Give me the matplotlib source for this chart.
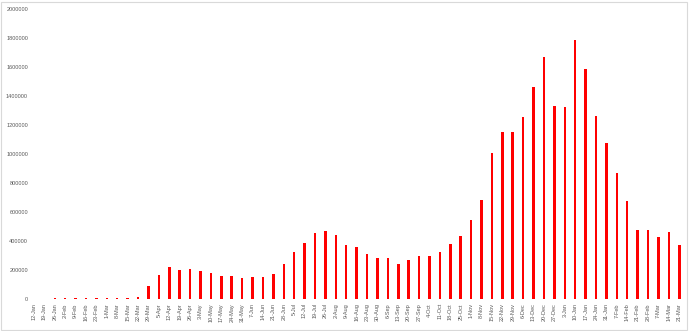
import matplotlib
matplotlib.use("Agg")
import matplotlib.pyplot as plt
from matplotlib.patches import Rectangle

weeks = ["12-Jan", "19-Jan", "26-Jan", "2-Feb", "9-Feb", "16-Feb", "23-Feb", "1-Mar", "8-Mar",
         "15-Mar", "22-Mar", "29-Mar", "5-Apr", "12-Apr", "19-Apr", "26-Apr", "3-May", "10-May",
         "17-May", "24-May", "31-May", "7-Jun", "14-Jun", "21-Jun", "28-Jun", "5-Jul", "12-Jul",
         "19-Jul", "26-Jul", "2-Aug", "9-Aug", "16-Aug", "23-Aug", "30-Aug", "6-Sep", "13-Sep",
         "20-Sep", "27-Sep", "4-Oct", "11-Oct", "18-Oct", "25-Oct", "1-Nov", "8-Nov", "15-Nov",
         "22-Nov", "29-Nov", "6-Dec", "13-Dec", "20-Dec", "27-Dec", "3-Jan", "10-Jan", "17-Jan",
         "24-Jan", "31-Jan", "7-Feb", "14-Feb", "21-Feb", "28-Feb", "7-Mar", "14-Mar", "21-Mar"]

counts = [0, 0, 5000, 5000, 5000, 5000, 5000, 5000, 5000,
          5000, 15000, 88000, 168000, 219000, 200000, 205000, 195000, 177000,
          159000, 159000, 143000, 152000, 149000, 172000, 241000, 322000, 384000,
          455000, 467000, 439000, 375000, 361000, 308000, 285000, 285000, 239000,
          271000, 299000, 294000, 326000, 379000, 434000, 545000, 685000, 1005000,
          1150000, 1150000, 1253000, 1460000, 1667000, 1333000, 1324000, 1786000, 1586000,
          1262000, 1074000, 869000, 674000, 478000, 473000, 425000, 462000, 375000]

yticks = list(range(0, 2000001, 200000))

label_color = "#595959"
font = "Liberation Sans"

fig = plt.figure(figsize=(6.9, 3.31), dpi=100)
ax = fig.add_axes([0.0417, 0.0967, 0.9503, 0.8761])

x = list(range(len(weeks)))
ax.bar(x, counts, width=0.24, color="#FF0000")

ax.set_xlim(-0.5, len(weeks) - 0.5)
ax.set_ylim(0, 2000000)
ax.set_xticks(x)
ax.set_xticklabels(weeks, rotation=90, fontsize=4, color=label_color, family=font)
ax.set_yticks(yticks)
ax.set_yticklabels([str(v) for v in yticks], fontsize=4, color=label_color, family=font)
ax.tick_params(axis="y", length=0, pad=0.5)
ax.tick_params(axis="x", length=0, pad=3)

for side in ["top", "right", "left", "bottom"]:
    ax.spines[side].set_visible(False)

# light chart border like the spreadsheet chart frame
fig.patches.append(Rectangle((0.002, 0.003), 0.994, 0.992, transform=fig.transFigure,
                             fill=False, edgecolor="#D9D9D9", linewidth=0.8))

fig.savefig("out.png", dpi=100)
